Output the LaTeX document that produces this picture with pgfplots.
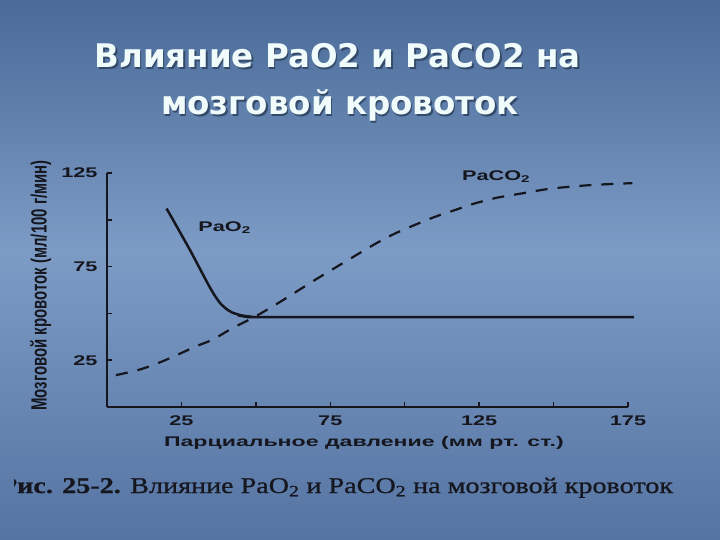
\documentclass[border=0pt]{standalone}
\usepackage{fontspec}
\usepackage{pgfplots}
\pgfplotsset{compat=1.18}
\setmainfont{Liberation Serif}
\newfontfamily\titlefont{DejaVu Sans}
\newfontfamily\widefont[FakeStretch=1.55]{Liberation Sans Bold}
\newfontfamily\xlabfont[FakeStretch=1.65]{Liberation Sans Bold}
\newfontfamily\condfont[FakeStretch=0.68]{Liberation Sans Bold}
\newfontfamily\capfont[FakeStretch=1.25, FakeBold=0.8]{Liberation Serif}
\definecolor{bgtop}{HTML}{4A6A98}
\definecolor{bgmid}{HTML}{7C9BC5}
\definecolor{bgbot}{HTML}{5574A2}
\definecolor{titlecol}{HTML}{F0FCFC}
\definecolor{ink}{HTML}{15161E}
\begin{document}
\begin{tikzpicture}[x=1pt,y=1pt]
\useasboundingbox (0,-540) rectangle (720,0);
\shade[top color=bgtop, bottom color=bgmid] (0,-251) rectangle (720,0);
\shade[top color=bgmid, bottom color=bgbot] (0,-540) rectangle (720,-250);
% title
\foreach \dx/\dy/\c in {1.5/-1.5/bgtop!70!black, 0/0/titlecol}{
\node[anchor=base, inner sep=0, text=\c, font=\titlefont\bfseries\fontsize{32.5}{32.5}\selectfont] at (337.5+\dx,-68+\dy) {Влияние PaO2 и PaCO2 на};
\node[anchor=base, inner sep=0, text=\c, font=\titlefont\bfseries\fontsize{32.5}{32.5}\selectfont] at (340+\dx,-115+\dy) {мозговой кровоток};
}
\begin{axis}[
  at={(107pt,-407pt)}, anchor=origin,
  scale only axis, width=521pt, height=234pt,
  xmin=0, xmax=175, ymin=0, ymax=125,
  axis lines=left,
  axis line style={-, line width=2pt, ink},
  xtick={25,50,75,100,125,150,175},
  xticklabels={25,,75,,125,,175},
  ytick={25,50,75,100,125},
  yticklabels={25,,75,,125},
  tick align=inside,
  major tick length=5pt,
  tick style={line width=1.5pt, ink},
  /pgf/number format/assume math mode=true,
  ticklabel style={font=\widefont\fontsize{14}{14}\selectfont, text=ink},
  yticklabel style={xshift=-6pt},
  xticklabel style={yshift=-5pt},
  xlabel={Парциальное давление (мм рт. ст.)},
  ylabel={Мозговой кровоток (мл/100 г/мин)},
  xlabel style={at={(axis description cs:0.493,-0.152)}, anchor=center, font=\xlabfont\fontsize{14}{14}\selectfont, text=ink},
  ylabel style={at={(axis description cs:-0.127,0.52)}, anchor=center, rotate=0, font=\condfont\fontsize{22}{22}\selectfont, text=ink},
  clip=false,
]
\addplot[ink, line width=2.5pt, smooth, tension=0.4] coordinates {
(20,106) (22,100.5) (25,92) (28,83.5) (31,74.5) (34,65.5) (36,60) (38,55.5)
(40,52.5) (42,50.5) (45,49) (48,48.3) (50,48) (100,48) (177,48)
};
\addplot[ink, line width=2.2pt, smooth, tension=0.5, dash pattern=on 12pt off 10pt] coordinates {
(3,17) (11,20) (18,24) (24.5,28.5) (30,32.5) (35.5,36) (42,42) (50,48.5)
(58.5,56.5) (70,68) (82,79.5) (90.5,87.5) (96.5,92.5) (103,97) (110,101.5)
(116.5,105) (123,108.5) (131,111.8) (139,114) (147.5,116.3) (155,117.6)
(164,118.7) (176.5,119.6)
};
\node[font=\widefont\fontsize{14}{14}\selectfont, text=ink] at (axis cs:39.5,96) {PaO\textsubscript{2}};
\node[font=\widefont\fontsize{14}{14}\selectfont, text=ink] at (axis cs:130.7,123) {PaCO\textsubscript{2}};
\end{axis}
% caption (its first letter cut off at the picture's edge, as in the reference)
\begin{scope}
\clip (14,-540) rectangle (720,-450);
\node[anchor=base west, inner sep=0, text=ink, font=\capfont\fontsize{22.5}{22.5}\selectfont] at (17,-493) {\llap{\bfseries Р}\textbf{ис. 25-2.} Влияние PaO\textsubscript{2} и PaCO\textsubscript{2} на мозговой кровоток};
\end{scope}
\end{tikzpicture}
\end{document}
